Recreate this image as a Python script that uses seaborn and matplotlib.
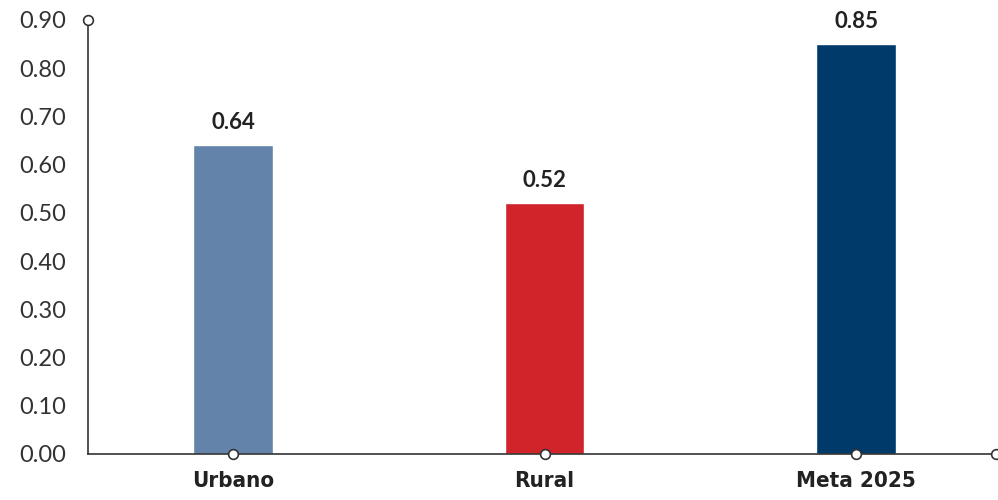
import pandas as pd
import numpy as np
import matplotlib.pyplot as plt
import seaborn as sns

# values
categorias = ['Urbano', 'Rural', 'Meta 2025']
valores = [0.64, 0.52, 0.85]
colores = ['#6383AA', '#D1232A', '#003A6B']
yticks = [0.0, 0.1, 0.2, 0.3, 0.4, 0.5, 0.6, 0.7, 0.8, 0.9]

df = pd.DataFrame({'cat': categorias, 'val': valores})

sns.set_style('white')
plt.rcParams['font.family'] = ['Lato', 'DejaVu Sans']

fig = plt.figure(figsize=(9.98, 5), dpi=100)
ax = fig.add_axes([88 / 998, 46 / 500, 908 / 998, 434 / 500])

sns.barplot(data=df, x='cat', y='val', hue='cat', palette=colores,
            width=0.256, legend=False, ax=ax, saturation=1)

for i, v in enumerate(valores):
    ax.text(i, v + 0.025, f'{v:.2f}', ha='center', va='bottom',
            fontsize=16, fontweight='bold', color='#222222')

xmin, xmax = -0.4655, 2.449
ax.set_xlim(xmin, xmax)
ax.set_ylim(0, 0.9)
ax.set_yticks(yticks)
ax.set_yticklabels([f'{t:.2f}' for t in yticks], fontsize=17, color='#333333')
ax.tick_params(axis='y', length=0, pad=16)
ax.tick_params(axis='x', length=0, pad=12)
ax.set_xticks(range(len(categorias)))
ax.set_xticklabels(categorias, fontsize=16, fontweight='bold', fontstretch='condensed',
                   family='DejaVu Sans', color='#222222')
ax.set_xlabel('')
ax.set_ylabel('')

for side in ['top', 'right']:
    ax.spines[side].set_visible(False)
for side in ['left', 'bottom']:
    ax.spines[side].set_color('#333333')
    ax.spines[side].set_linewidth(1.2)

# little circles at axis ends and category ticks
mk = dict(marker='o', ms=7, mfc='white', mec='#333333', mew=1.2, clip_on=False, zorder=5, ls='none')
ax.plot([0, 1, 2], [0, 0, 0], **mk)
ax.plot([xmin], [0.9], **mk)
ax.plot([xmax], [0], **mk)

fig.savefig('out.png', dpi=100)
